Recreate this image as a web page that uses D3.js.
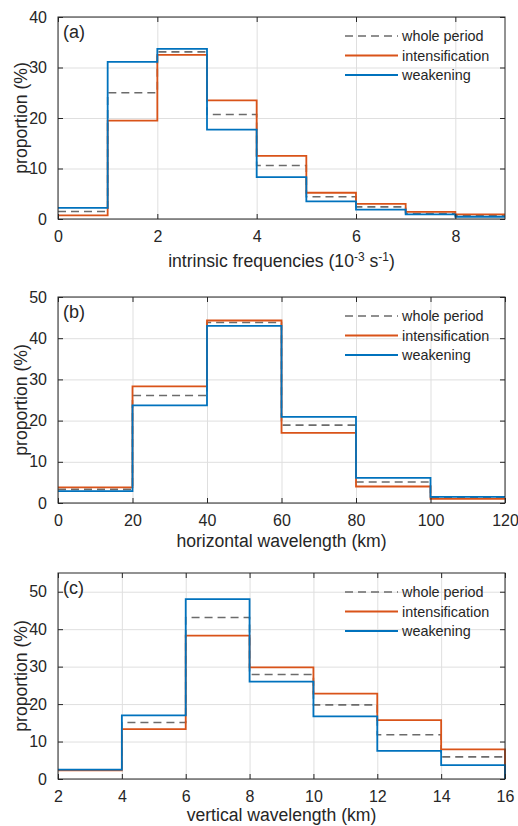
<!DOCTYPE html>
<html>
<head>
<meta charset="utf-8">
<script src="https://cdn.jsdelivr.net/npm/d3@7/dist/d3.min.js"></script>
<style>
    body { margin: 0; background: #fff; }
    svg { font-family: "Liberation Sans", Arial, sans-serif; }
</style>
</head>
<body>
<svg id="chart" width="518" height="826"></svg>
<script>
// (a) intrinsic frequencies, bins of 1e-3 s-1
var freqEdges = [0, 1, 2, 3, 4, 5, 6, 7, 8, 9];
var freqWhole = [1.5, 25.0, 33.1, 20.7, 10.6, 4.4, 2.4, 1.1, 0.7];
var freqIntens = [0.7, 19.5, 32.5, 23.5, 12.5, 5.2, 3.0, 1.4, 0.9];
var freqWeak = [2.2, 31.1, 33.7, 17.7, 8.3, 3.5, 1.85, 0.9, 0.45];

// (b) horizontal wavelength, km
var horEdges = [0, 20, 40, 60, 80, 100, 120];
var horWhole = [3.3, 26.1, 43.8, 18.9, 5.1, 1.3];
var horIntens = [3.8, 28.3, 44.3, 17.0, 4.0, 1.0];
var horWeak = [2.9, 23.7, 43.0, 20.9, 6.1, 1.5];

// (c) vertical wavelength, km
var verEdges = [2, 4, 6, 8, 10, 12, 14, 16];
var verWhole = [2.4, 15.1, 43.1, 27.9, 19.8, 11.8, 5.9];
var verIntens = [2.3, 13.3, 38.3, 29.8, 22.8, 15.7, 7.9];
var verWeak = [2.5, 17.0, 48.0, 26.0, 16.7, 7.5, 3.7];

var seriesNames = ['whole period', 'intensification', 'weakening'];

var svg = d3.select('#chart');
var left = 58, right = 505;
var axisColor = '#262626';
var gridColor = '#dfdfdf';
var styles = [
    { color: '#6b6b6b', dash: '8,5' },
    { color: '#D95319', dash: null },
    { color: '#0072BD', dash: null }
];

var panels = [
    {
        tag: '(a)', top: 17, bottom: 219,
        xDomain: [0, 9], xTicks: [0, 2, 4, 6, 8],
        yDomain: [0, 40], yTicks: [0, 10, 20, 30, 40],
        edges: freqEdges, series: [freqWhole, freqIntens, freqWeak],
        xLabel: 'freq', labelGap: 48, dropEnd: false
    },
    {
        tag: '(b)', top: 297, bottom: 503,
        xDomain: [0, 120], xTicks: [0, 20, 40, 60, 80, 100, 120],
        yDomain: [0, 50], yTicks: [0, 10, 20, 30, 40, 50],
        edges: horEdges, series: [horWhole, horIntens, horWeak],
        xLabel: 'horizontal wavelength (km)', labelGap: 44, dropEnd: false
    },
    {
        tag: '(c)', top: 573, bottom: 779,
        xDomain: [2, 16], xTicks: [2, 4, 6, 8, 10, 12, 14, 16],
        yDomain: [0, 55], yTicks: [0, 10, 20, 30, 40, 50],
        edges: verEdges, series: [verWhole, verIntens, verWeak],
        xLabel: 'vertical wavelength (km)', labelGap: 42, dropEnd: true
    }
];

panels.forEach(function(p)
{
    var x = d3.scaleLinear().domain(p.xDomain).range([left, right]);
    var y = d3.scaleLinear().domain(p.yDomain).range([p.bottom, p.top]);
    var g = svg.append('g');
    var h = p.bottom - p.top;
    var w = right - left;

    // grid
    g.append('g')
        .attr('transform', 'translate(0,' + p.bottom + ')')
        .call(d3.axisBottom(x).tickValues(p.xTicks).tickSize(-h).tickFormat(''))
        .call(function(a) { a.select('.domain').remove(); a.selectAll('line').attr('stroke', gridColor); });
    g.append('g')
        .attr('transform', 'translate(' + left + ',0)')
        .call(d3.axisLeft(y).tickValues(p.yTicks).tickSize(-w).tickFormat(''))
        .call(function(a) { a.select('.domain').remove(); a.selectAll('line').attr('stroke', gridColor); });

    // stairs
    var line = d3.line().x(function(d) { return x(d[0]); }).y(function(d) { return y(d[1]); });
    p.series.forEach(function(vals, i)
    {
        var pts = [];
        vals.forEach(function(v, k)
        {
            pts.push([p.edges[k], v]);
            pts.push([p.edges[k + 1], v]);
        });
        if(p.dropEnd && i > 0)
        {
            pts.push([p.edges[p.edges.length - 1], 0]);
        }
        g.append('path')
            .attr('d', line(pts))
            .attr('fill', 'none')
            .attr('stroke', styles[i].color)
            .attr('stroke-width', i === 0 ? 1.6 : 1.8)
            .attr('stroke-dasharray', styles[i].dash);
    });

    // axes (ticks inside, box)
    var tickLen = 5;
    g.append('g')
        .attr('transform', 'translate(0,' + p.bottom + ')')
        .call(d3.axisBottom(x).tickValues(p.xTicks).tickSize(-tickLen).tickPadding(12))
        .call(function(a)
        {
            a.select('.domain').remove();
            a.selectAll('line').attr('stroke', axisColor);
            a.selectAll('text').attr('font-size', 16).attr('fill', axisColor).attr('font-family', null);
        });
    g.append('g')
        .attr('transform', 'translate(0,' + p.top + ')')
        .call(d3.axisTop(x).tickValues(p.xTicks).tickSize(-tickLen).tickFormat(''))
        .call(function(a) { a.select('.domain').remove(); a.selectAll('line').attr('stroke', axisColor); });
    g.append('g')
        .attr('transform', 'translate(' + left + ',0)')
        .call(d3.axisLeft(y).tickValues(p.yTicks).tickSize(-tickLen).tickPadding(11))
        .call(function(a)
        {
            a.select('.domain').remove();
            a.selectAll('line').attr('stroke', axisColor);
            a.selectAll('text').attr('font-size', 16).attr('fill', axisColor).attr('font-family', null);
        });
    g.append('g')
        .attr('transform', 'translate(' + right + ',0)')
        .call(d3.axisRight(y).tickValues(p.yTicks).tickSize(-tickLen).tickFormat(''))
        .call(function(a) { a.select('.domain').remove(); a.selectAll('line').attr('stroke', axisColor); });

    g.append('rect')
        .attr('x', left).attr('y', p.top)
        .attr('width', w).attr('height', h)
        .attr('fill', 'none')
        .attr('stroke', axisColor)
        .attr('stroke-width', 1);

    // panel tag
    g.append('text')
        .attr('x', 63).attr('y', p.top + 21)
        .attr('font-size', 18)
        .attr('fill', axisColor)
        .text(p.tag);

    // legend
    seriesNames.forEach(function(name, i)
    {
        var ly = p.top + 19 + i * 19.5;
        g.append('line')
            .attr('x1', 345).attr('x2', 398)
            .attr('y1', ly).attr('y2', ly)
            .attr('stroke', styles[i].color)
            .attr('stroke-width', i === 0 ? 1.6 : 1.8)
            .attr('stroke-dasharray', styles[i].dash);
        g.append('text')
            .attr('x', 402).attr('y', ly)
            .attr('dy', '0.35em')
            .attr('font-size', 14.4)
            .attr('fill', axisColor)
            .text(name);
    });

    // y label
    g.append('text')
        .attr('transform', 'translate(27,' + (p.top + h / 2) + ') rotate(-90)')
        .attr('text-anchor', 'middle')
        .attr('font-size', 17.6)
        .attr('fill', axisColor)
        .text('proportion (%)');

    // x label
    var xl = g.append('text')
        .attr('x', (left + right) / 2)
        .attr('y', p.bottom + p.labelGap)
        .attr('text-anchor', 'middle')
        .attr('font-size', 17.6)
        .attr('fill', axisColor);
    if(p.xLabel == 'freq')
    {
        xl.append('tspan').text('intrinsic frequencies (10');
        xl.append('tspan').attr('dy', -6).attr('font-size', 12).text('-3');
        xl.append('tspan').attr('dy', 6).text(' s');
        xl.append('tspan').attr('dy', -6).attr('font-size', 12).text('-1');
        xl.append('tspan').attr('dy', 6).text(')');
    }
    else
    {
        xl.text(p.xLabel);
    }
});
</script>
</body>
</html>
